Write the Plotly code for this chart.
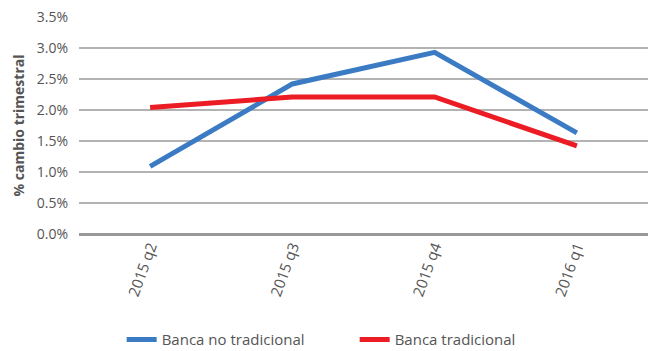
import plotly.graph_objects as go

quarters = ["2015 q2", "2015 q3", "2015 q4", "2016 q1"]
banca_no_tradicional = [1.09, 2.42, 2.93, 1.63]
banca_tradicional = [2.04, 2.21, 2.21, 1.42]
y_ticks = [0.0, 0.5, 1.0, 1.5, 2.0, 2.5, 3.0, 3.5]

FONT = "Open Sans"
TEXT = "#555555"

fig = go.Figure()
fig.add_trace(go.Scatter(
    x=quarters, y=banca_no_tradicional, mode="lines",
    name="Banca no tradicional",
    line=dict(color="#3b7bc4", width=5),
))
fig.add_trace(go.Scatter(
    x=quarters, y=banca_tradicional, mode="lines",
    name="Banca tradicional",
    line=dict(color="#ec1c24", width=5),
))

fig.update_layout(
    width=650, height=351,
    margin=dict(l=79, r=2, t=17, b=117),
    paper_bgcolor="white", plot_bgcolor="white",
    font=dict(family=FONT, color=TEXT, size=14),
    showlegend=True,
    legend=dict(
        orientation="h", x=0.075, xanchor="left",
        yref="container", y=0.032, yanchor="middle",
        font=dict(size=15, color=TEXT),
        entrywidth=188, entrywidthmode="pixels", tracegroupgap=0,
    ),
    xaxis=dict(
        type="category", range=[-0.5, 3.5], automargin=False,
        tickangle=-70, showgrid=False, showline=False,
        ticks="", tickfont=dict(size=15, color=TEXT),
    ),
    yaxis=dict(
        range=[0, 3.5], tickvals=y_ticks, automargin=False,
        ticktext=[f"{v:.1f}%" for v in y_ticks],
        showgrid=True, gridcolor="#b3b3b3", gridwidth=1.5,
        zeroline=True, zerolinecolor="#999999", zerolinewidth=3,
        showline=False, ticks="", ticklabelstandoff=10,
        tickfont=dict(size=14, color=TEXT),
        title=dict(text="<b>% cambio trimestral</b>", standoff=8,
                   font=dict(size=14, color=TEXT)),
    ),
)

fig.write_html("out.html")
